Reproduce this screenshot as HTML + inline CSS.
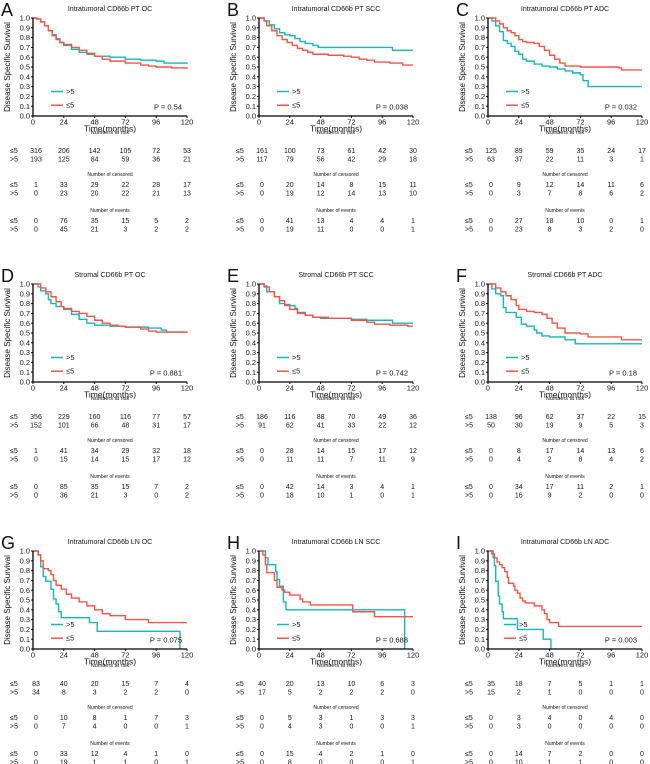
<!DOCTYPE html>
<html><head><meta charset="utf-8">
<style>
html,body{margin:0;padding:0;background:#fff;}
svg{display:block;font-family:"Liberation Sans",sans-serif;}
</style></head>
<body>
<svg id="fig" width="650" height="764" viewBox="0 0 650 764"></svg>
<script>
// ---- data ----
const panelLetters = ["A","B","C","D","E","F","G","H","I"];
const panelTitles = ["Intratumoral CD66b PT OC","Intratumoral CD66b PT SCC","Intratumoral CD66b PT ADC",
 "Stromal CD66b PT OC","Stromal CD66b PT SCC","Stromal CD66b PT ADC",
 "Intratumoral CD66b LN OC","Intratumoral CD66b LN SCC","Intratumoral CD66b LN ADC"];
const pValues = ["P = 0.54","P = 0.038","P = 0.032","P = 0.881","P = 0.742","P = 0.18","P = 0.075","P = 0.688","P = 0.003"];
const xTicks = [0,24,48,72,96,120];
const yTicks = [0,0.1,0.2,0.3,0.4,0.5,0.6,0.7,0.8,0.9,1.0];
// step knots [month, survival]
const highSeries = [
 [[0,1],[3,.99],[6,.96],[9,.92],[12,.87],[15,.83],[18,.79],[21,.75],[24,.72],[30,.68],[36,.65],[42,.63],[48,.61],[60,.60],[72,.58],[84,.57],[96,.56],[102,.54],[120,.53]],
 [[0,1],[4,.97],[8,.93],[12,.89],[16,.85],[20,.83],[24,.82],[28,.79],[32,.76],[36,.74],[42,.72],[46,.70],[100,.70],[104,.67],[120,.67]],
 [[0,1],[3,.97],[6,.92],[9,.86],[12,.77],[15,.74],[18,.71],[21,.66],[24,.63],[27,.58],[30,.56],[36,.53],[42,.51],[48,.50],[54,.48],[60,.46],[66,.44],[72,.42],[74,.36],[78,.30],[120,.30]],
 [[0,1],[4,.97],[6,.93],[10,.90],[12,.84],[14,.80],[18,.77],[24,.74],[30,.69],[36,.64],[42,.60],[48,.58],[60,.57],[72,.56],[90,.55],[100,.53],[104,.51],[120,.51]],
 [[0,1],[4,.98],[6,.92],[12,.87],[16,.80],[20,.79],[24,.78],[28,.75],[30,.71],[36,.68],[42,.66],[48,.65],[60,.65],[72,.64],[84,.63],[102,.63],[104,.60],[120,.60]],
 [[0,1],[3,.95],[6,.90],[10,.88],[12,.76],[14,.71],[22,.66],[26,.59],[30,.57],[36,.53],[38,.50],[42,.47],[48,.46],[60,.43],[68,.39],[120,.39]],
 [[0,1],[4,.96],[6,.84],[8,.74],[10,.69],[14,.61],[16,.51],[18,.46],[20,.38],[22,.32],[42,.32],[44,.27],[50,.18],[114,.18],[114.5,0]],
 [[0,1],[5,.93],[7,.86],[12,.86],[13,.79],[14,.71],[16,.64],[18,.64],[19,.48],[21,.40],[113,.40],[113.5,0]],
 [[0,1],[4,.93],[5,.85],[6,.69],[8,.54],[9,.46],[11,.38],[12,.31],[22,.31],[23,.20],[42,.20],[43,.10],[48,.10],[49,0]]
];
const lowSeries = [
 [[0,1],[3,.99],[6,.96],[9,.92],[12,.87],[15,.82],[18,.78],[21,.75],[24,.73],[30,.70],[36,.67],[42,.64],[48,.61],[54,.58],[60,.56],[72,.54],[84,.52],[90,.51],[96,.50],[108,.49],[120,.48]],
 [[0,1],[4,.97],[6,.92],[10,.87],[14,.82],[18,.78],[22,.75],[26,.72],[30,.69],[34,.67],[38,.65],[42,.63],[54,.62],[66,.61],[72,.60],[78,.58],[84,.57],[90,.55],[102,.54],[112,.52],[120,.52]],
 [[0,1],[6,.97],[9,.94],[12,.90],[15,.87],[18,.85],[21,.82],[24,.78],[27,.76],[30,.75],[36,.74],[40,.71],[44,.67],[48,.62],[52,.58],[56,.54],[60,.51],[72,.50],[102,.49],[104,.47],[120,.47]],
 [[0,1],[6,.96],[10,.92],[14,.87],[18,.82],[22,.77],[24,.75],[30,.72],[36,.70],[42,.67],[48,.63],[54,.60],[60,.58],[66,.57],[72,.56],[84,.54],[90,.52],[96,.51],[120,.50]],
 [[0,1],[4,.97],[8,.92],[12,.87],[16,.83],[20,.78],[24,.74],[30,.70],[36,.68],[42,.66],[54,.65],[72,.63],[84,.61],[90,.59],[102,.58],[116,.57],[120,.57]],
 [[0,1],[6,.96],[10,.92],[14,.88],[18,.84],[22,.78],[24,.74],[30,.72],[36,.71],[42,.69],[46,.65],[50,.60],[54,.55],[60,.50],[72,.49],[78,.46],[102,.46],[104,.43],[120,.43]],
 [[0,1],[4,.96],[6,.90],[8,.82],[12,.80],[14,.76],[16,.70],[18,.65],[22,.61],[26,.56],[30,.52],[36,.48],[42,.44],[48,.40],[54,.36],[60,.34],[72,.30],[90,.27],[120,.27]],
 [[0,1],[3,.96],[5,.86],[6,.78],[11,.78],[12,.70],[14,.63],[18,.60],[20,.58],[24,.55],[30,.55],[32,.51],[34,.48],[40,.45],[72,.45],[73,.38],[89,.38],[90,.33],[120,.33]],
 [[0,1],[3,.97],[5,.93],[7,.89],[9,.86],[11,.83],[13,.79],[15,.73],[16,.67],[20,.64],[21,.60],[23,.57],[25,.52],[27,.49],[29,.47],[36,.44],[42,.40],[44,.36],[46,.30],[48,.27],[55,.23],[120,.23]]
];
const riskLow = [[316,206,142,105,72,53],[161,100,73,61,42,30],[125,89,59,35,24,17],[356,229,160,116,77,57],[186,116,88,70,49,36],[138,96,62,37,22,15],[83,40,20,15,7,4],[40,20,13,10,6,3],[35,18,7,5,1,1]];
const riskHigh = [[193,125,84,59,36,21],[117,79,56,42,29,18],[63,37,22,11,3,1],[152,101,66,48,31,17],[91,62,41,33,22,12],[50,30,19,9,5,3],[34,8,3,2,2,0],[17,5,2,2,2,0],[15,2,1,0,0,0]];
const censLow = [[1,33,29,22,28,17],[0,20,14,8,15,11],[0,9,12,14,11,6],[1,41,34,29,32,18],[0,28,14,15,17,12],[0,8,17,14,13,6],[0,10,8,1,7,3],[0,5,3,1,3,3],[0,3,4,0,4,0]];
const censHigh = [[0,23,20,22,21,13],[0,19,12,14,13,10],[0,3,7,8,6,2],[0,15,14,15,17,12],[0,11,11,7,11,9],[0,4,2,8,4,2],[0,7,4,0,0,1],[0,4,3,0,0,1],[0,3,0,0,0,0]];
const evLow = [[0,76,35,15,5,2],[0,41,13,4,4,1],[0,27,18,10,0,1],[0,85,35,15,7,2],[0,42,14,3,4,1],[0,34,17,11,2,1],[0,33,12,4,1,0],[0,15,4,2,1,0],[0,14,7,2,0,0]];
const evHigh = [[0,45,21,3,2,2],[0,19,11,0,0,1],[0,23,8,3,2,0],[0,36,21,3,0,2],[0,18,10,1,0,1],[0,16,9,2,0,0],[0,19,1,1,0,1],[0,8,0,0,0,1],[0,10,1,1,0,0]];

const NS="http://www.w3.org/2000/svg";
const svg=document.getElementById('fig');
const TEAL="#19b5b8", RED="#f2564a";
const colX=[33,259,488], rowY=[18,284,551], PW=154, PH=98;
function mk(tag,attrs,parent){const e=document.createElementNS(NS,tag);for(const k in attrs)e.setAttribute(k,attrs[k]);(parent||svg).appendChild(e);return e;}
function txt(s,x,y,size,anchor,parent,extra){const t=mk('text',Object.assign({x:x,y:y,'font-size':size,'text-anchor':anchor||'middle',fill:'#111'},extra||{}),parent);t.textContent=s;return t;}

for(let p=0;p<9;p++){
  const x0=colX[p%3], top=rowY[Math.floor(p/3)];
  const sx=t=>x0+t/120*PW, sy=v=>top+PH-v*PH;
  const g=mk('g',{});
  
  
  const L=txt(panelLetters[p],x0-32,top-2,18,'start',g);
  
  const T=txt(panelTitles[p],x0+PW/2,top-7,7,'middle',g);
  
  // curves
  [[highSeries[p],TEAL,'curve-high'],[lowSeries[p],RED,'curve-low']].forEach(([s,c,n])=>{
    let d='M'+sx(s[0][0])+','+sy(s[0][1]);
    for(let i=1;i<s.length;i++){d+=' H'+sx(s[i][0])+' V'+sy(s[i][1]);}
    const path=mk('path',{d:d,fill:'none',stroke:c,'stroke-width':1.4},g);
    
  });
  // axes
  const ax=mk('path',{d:`M${x0},${top} V${top+PH} H${x0+PW}`,fill:'none',stroke:'#000','stroke-width':1.3},g);
  
  yTicks.forEach(v=>{
    mk('line',{x1:x0-2,x2:x0,y1:sy(v),y2:sy(v),stroke:'#000','stroke-width':1},g);
    const t=txt(v.toFixed(1),x0-3,sy(v)+2.6,7.5,'end',g);
    
  });
  xTicks.forEach(v=>{
    mk('line',{x1:sx(v),x2:sx(v),y1:top+PH,y2:top+PH+2,stroke:'#000','stroke-width':1},g);
    const t=txt(String(v),sx(v),top+PH+8.5,7.5,'middle',g);
    
  });
  const yt=txt('Disease Specific Survival',0,0,8,'middle',g,{transform:`translate(${x0-23},${top+PH/2}) rotate(-90)`});
  
  const xt=txt('Time(months)',x0+PW/2,top+PH+15.5,8.5,'middle',g);
  
  // legend
  const lx=x0+(p===8?16:18);
  mk('line',{x1:lx,x2:lx+12,y1:sy(0.25),y2:sy(0.25),stroke:TEAL,'stroke-width':1.5},g);
  const l1=txt('>5',lx+15,sy(0.25)+2.5,7.5,'start',g);
  
  mk('line',{x1:lx,x2:lx+12,y1:sy(0.11),y2:sy(0.11),stroke:RED,'stroke-width':1.5},g);
  const l2=txt('≤5',lx+15,sy(0.11)+2.5,7.5,'start',g);
  
  const pv=txt(pValues[p],x0+PW-5,sy(0.09)+2.5,7.5,'end',g);
  
  // tables
  const tables=[['Numbers at risk',riskLow[p],riskHigh[p],116,'risk-table'],
                ['Number of censored',censLow[p],censHigh[p],158,'censored-table'],
                ['Number of events',evLow[p],evHigh[p],194,'events-table']];
  tables.forEach(([h,lo,hi,off,name])=>{
    const tg=mk('g',{},g);
    
    txt(h,x0+PW/2,top+off,h==='Numbers at risk'?5.5:5,'middle',tg);
    const r1=top+off+(h==='Numbers at risk'?19:11), r2=r1+8.5;
    txt('≤5',x0-23,r1,7,'start',tg);txt('>5',x0-23,r2,7,'start',tg);
    lo.forEach((v,i)=>txt(String(v),sx(xTicks[i])+(i===0?3:0),r1,7,'middle',tg));
    hi.forEach((v,i)=>txt(String(v),sx(xTicks[i])+(i===0?3:0),r2,7,'middle',tg));
  });
}
</script>
</body></html>
